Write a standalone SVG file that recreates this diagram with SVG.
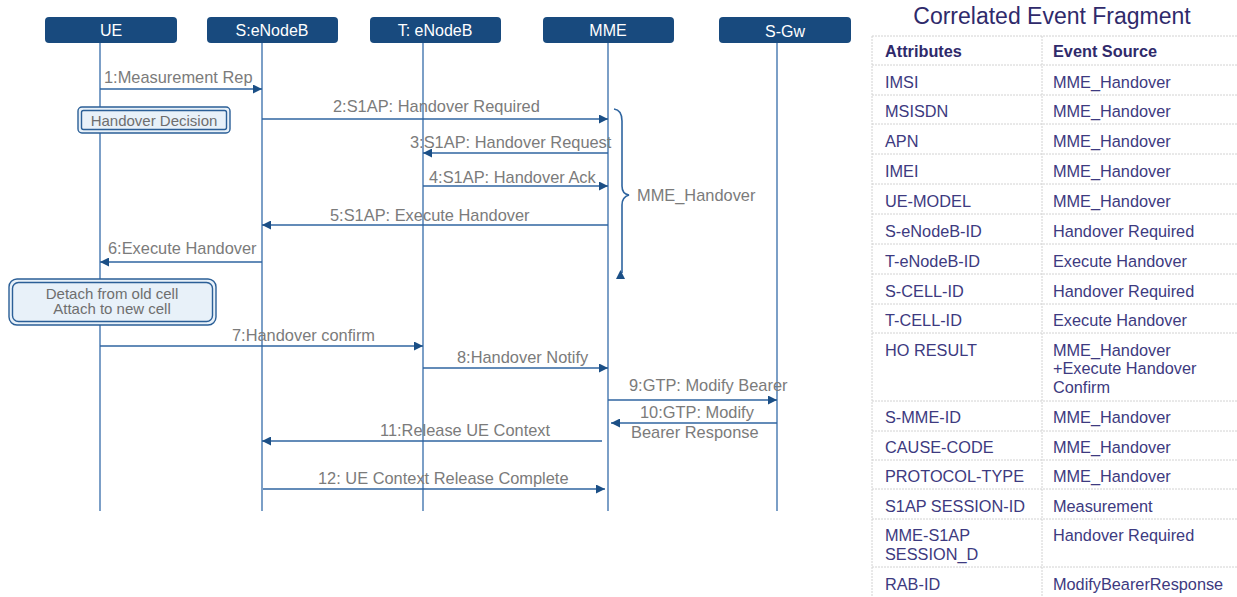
<svg xmlns="http://www.w3.org/2000/svg" width="1237" height="597" viewBox="0 0 1237 597">
  <style>
    .hdr { fill: #184a7e; }
    .hdr-text { font-family: "Liberation Sans", Arial, sans-serif; font-size: 16px; fill: #ffffff; text-anchor: middle; }
    .life { stroke: #5b87b9; stroke-width: 1.6; fill: none; }
    .msg { stroke: #2f65a0; stroke-width: 1.6; fill: none; }
    .lbl { font-family: "Liberation Sans", Arial, sans-serif; font-size: 16.4px; fill: #7b7b7b; }
    .note-outer { fill: #e8f1f9; stroke: #2b5f97; stroke-width: 1.4; }
    .note-inner { fill: none; stroke: #2b5f97; stroke-width: 1.4; }
    .note-text { font-family: "Liberation Sans", Arial, sans-serif; font-size: 15px; fill: #6e6e6e; text-anchor: middle; }
    .title { font-family: "Liberation Sans", Arial, sans-serif; font-size: 23px; fill: #2f2a6b; text-anchor: middle; }
    .cell { font-family: "Liberation Sans", Arial, sans-serif; font-size: 16.3px; fill: #3d3a80; }
    .cell-h { font-family: "Liberation Sans", Arial, sans-serif; font-size: 16.3px; font-weight: bold; fill: #2f2a6b; }
    .grid { stroke: #d2d2d2; stroke-width: 1; stroke-dasharray: 2 1; fill: none; }
  </style>
  <defs>
    <marker id="arrow" viewBox="0 0 10 10" refX="10" refY="5" markerWidth="10" markerHeight="9" markerUnits="userSpaceOnUse" orient="auto">
      <path d="M0,0 L10,5 L0,10 z" fill="#1b4f86"/>
    </marker>
  </defs>

  <rect width="1237" height="597" fill="#ffffff"/>

  <!-- lifelines -->
  <g id="lifelines">
    <line class="life" x1="100" y1="43" x2="100" y2="511"/>
    <line class="life" x1="262" y1="43" x2="262" y2="511"/>
    <line class="life" x1="423" y1="43" x2="423" y2="511"/>
    <line class="life" x1="608" y1="43" x2="608" y2="511"/>
    <line class="life" x1="777" y1="43" x2="777" y2="511"/>
  </g>

  <!-- participants -->
  <g id="node-ue">
    <rect class="hdr" x="45" y="17" width="132" height="26" rx="4"/>
    <text class="hdr-text" x="111" y="36">UE</text>
  </g>
  <g id="node-s-enodeb">
    <rect class="hdr" x="207" y="17" width="131" height="26" rx="4"/>
    <text class="hdr-text" x="272" y="36">S:eNodeB</text>
  </g>
  <g id="node-t-enodeb">
    <rect class="hdr" x="370" y="17" width="131" height="26" rx="4"/>
    <text class="hdr-text" x="435" y="36">T: eNodeB</text>
  </g>
  <g id="node-mme">
    <rect class="hdr" x="543" y="17" width="131" height="26" rx="4"/>
    <text class="hdr-text" x="608" y="36">MME</text>
  </g>
  <g id="node-sgw">
    <rect class="hdr" x="719" y="17" width="132" height="26" rx="4"/>
    <text class="hdr-text" x="785" y="37">S-Gw</text>
  </g>

  <!-- notes on the UE lifeline -->
  <g id="note-handover-decision">
    <rect class="note-outer" x="78" y="107" width="152" height="26" rx="4"/>
    <rect class="note-inner" x="81.5" y="110.5" width="145" height="19" rx="2"/>
    <text class="note-text" x="154" y="126">Handover Decision</text>
  </g>
  <g id="note-detach-attach">
    <rect class="note-outer" x="9" y="279" width="207" height="46" rx="8"/>
    <rect class="note-inner" x="12.5" y="282.5" width="200" height="39" rx="6"/>
    <text class="note-text" x="112" y="299">Detach from old cell</text>
    <text class="note-text" x="112" y="314">Attach to new cell</text>
  </g>

  <!-- messages -->
  <g id="connectors">
    <line class="msg" x1="100" y1="89" x2="262" y2="89" marker-end="url(#arrow)"/>
    <text class="lbl" x="104" y="83">1:Measurement Rep</text>

    <line class="msg" x1="262" y1="119" x2="608" y2="119" marker-end="url(#arrow)"/>
    <text class="lbl" x="333" y="112">2:S1AP: Handover Required</text>

    <line class="msg" x1="608" y1="153" x2="423" y2="153" marker-end="url(#arrow)"/>
    <text class="lbl" x="410" y="148">3:S1AP: Handover Request</text>

    <line class="msg" x1="423" y1="186" x2="608" y2="186" marker-end="url(#arrow)"/>
    <text class="lbl" x="429" y="183">4:S1AP: Handover Ack</text>

    <line class="msg" x1="608" y1="225" x2="262" y2="225" marker-end="url(#arrow)"/>
    <text class="lbl" x="330" y="221">5:S1AP: Execute Handover</text>

    <line class="msg" x1="262" y1="262" x2="100" y2="262" marker-end="url(#arrow)"/>
    <text class="lbl" x="108" y="254">6:Execute Handover</text>

    <line class="msg" x1="100" y1="346" x2="423" y2="346" marker-end="url(#arrow)"/>
    <text class="lbl" x="232" y="341">7:Handover confirm</text>

    <line class="msg" x1="423" y1="368" x2="608" y2="368" marker-end="url(#arrow)"/>
    <text class="lbl" x="457" y="363">8:Handover Notify</text>

    <line class="msg" x1="608" y1="400" x2="777" y2="400" marker-end="url(#arrow)"/>
    <text class="lbl" x="629" y="391">9:GTP: Modify Bearer</text>

    <line class="msg" x1="777" y1="423" x2="611" y2="423" marker-end="url(#arrow)"/>
    <text class="lbl" x="640" y="418">10:GTP: Modify</text>
    <text class="lbl" x="631" y="438">Bearer Response</text>

    <line class="msg" x1="602" y1="441" x2="262" y2="441" marker-end="url(#arrow)"/>
    <text class="lbl" x="380" y="436">11:Release UE Context</text>

    <line class="msg" x1="263" y1="489" x2="605" y2="489" marker-end="url(#arrow)"/>
    <text class="lbl" x="318" y="484">12: UE Context Release Complete</text>

    <!-- brace grouping messages 2-6 -->
    <path class="msg" d="M614,109 Q622,110 622,121 L622,186 Q622,194 629,195 Q622,197 622,205 L622,273"/>
    <path d="M616,279 L620.5,270 L625,279 z" fill="#1b4f86"/>
    <text class="lbl" x="637" y="201">MME_Handover</text>
  </g>

  <!-- correlated event table -->
  <g id="event-table">
    <text class="title" x="1052" y="24">Correlated Event Fragment</text>
    <g class="grid">
      <line x1="872" y1="36" x2="1237" y2="36"/>
      <line x1="872" y1="65" x2="1237" y2="65"/>
      <line x1="872" y1="95" x2="1237" y2="95"/>
      <line x1="872" y1="124" x2="1237" y2="124"/>
      <line x1="872" y1="154" x2="1237" y2="154"/>
      <line x1="872" y1="184" x2="1237" y2="184"/>
      <line x1="872" y1="214" x2="1237" y2="214"/>
      <line x1="872" y1="244" x2="1237" y2="244"/>
      <line x1="872" y1="274" x2="1237" y2="274"/>
      <line x1="872" y1="304" x2="1237" y2="304"/>
      <line x1="872" y1="333" x2="1237" y2="333"/>
      <line x1="872" y1="401" x2="1237" y2="401"/>
      <line x1="872" y1="431" x2="1237" y2="431"/>
      <line x1="872" y1="460" x2="1237" y2="460"/>
      <line x1="872" y1="489" x2="1237" y2="489"/>
      <line x1="872" y1="519" x2="1237" y2="519"/>
      <line x1="872" y1="567" x2="1237" y2="567"/>
      <line x1="872" y1="36" x2="872" y2="597"/>
      <line x1="1042" y1="36" x2="1042" y2="597"/>
    </g>
    <text class="cell-h" x="885" y="57">Attributes</text>
    <text class="cell-h" x="1053" y="57">Event Source</text>

    <text class="cell" x="885" y="88">IMSI</text>
    <text class="cell" x="1053" y="88">MME_Handover</text>
    <text class="cell" x="885" y="117">MSISDN</text>
    <text class="cell" x="1053" y="117">MME_Handover</text>
    <text class="cell" x="885" y="147">APN</text>
    <text class="cell" x="1053" y="147">MME_Handover</text>
    <text class="cell" x="885" y="177">IMEI</text>
    <text class="cell" x="1053" y="177">MME_Handover</text>
    <text class="cell" x="885" y="207">UE-MODEL</text>
    <text class="cell" x="1053" y="207">MME_Handover</text>
    <text class="cell" x="885" y="237">S-eNodeB-ID</text>
    <text class="cell" x="1053" y="237">Handover Required</text>
    <text class="cell" x="885" y="267">T-eNodeB-ID</text>
    <text class="cell" x="1053" y="267">Execute Handover</text>
    <text class="cell" x="885" y="297">S-CELL-ID</text>
    <text class="cell" x="1053" y="297">Handover Required</text>
    <text class="cell" x="885" y="326">T-CELL-ID</text>
    <text class="cell" x="1053" y="326">Execute Handover</text>
    <text class="cell" x="885" y="356">HO RESULT</text>
    <text class="cell" x="1053" y="356">MME_Handover</text>
    <text class="cell" x="1053" y="374">+Execute Handover</text>
    <text class="cell" x="1053" y="393">Confirm</text>
    <text class="cell" x="885" y="423">S-MME-ID</text>
    <text class="cell" x="1053" y="423">MME_Handover</text>
    <text class="cell" x="885" y="453">CAUSE-CODE</text>
    <text class="cell" x="1053" y="453">MME_Handover</text>
    <text class="cell" x="885" y="482">PROTOCOL-TYPE</text>
    <text class="cell" x="1053" y="482">MME_Handover</text>
    <text class="cell" x="885" y="512">S1AP SESSION-ID</text>
    <text class="cell" x="1053" y="512">Measurement</text>
    <text class="cell" x="885" y="541">MME-S1AP</text>
    <text class="cell" x="885" y="560">SESSION_D</text>
    <text class="cell" x="1053" y="541">Handover Required</text>
    <text class="cell" x="885" y="590">RAB-ID</text>
    <text class="cell" x="1053" y="590">ModifyBearerResponse</text>
  </g>
</svg>
